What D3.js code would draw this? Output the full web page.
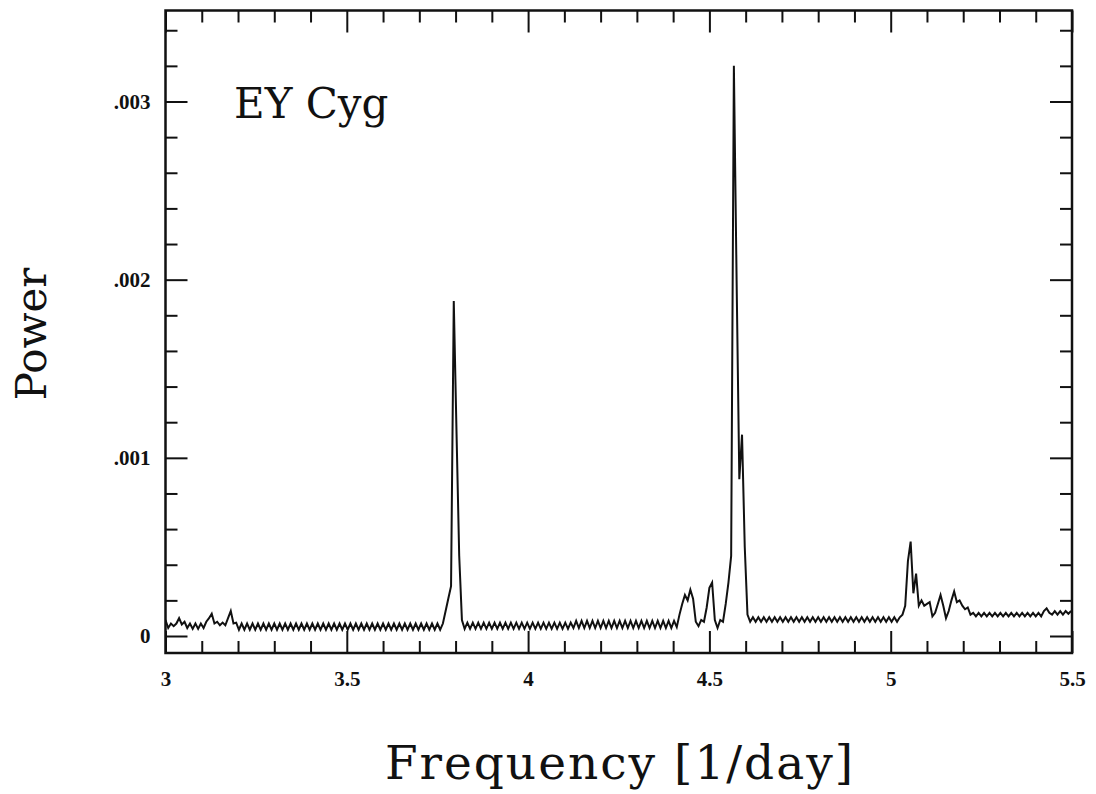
<!DOCTYPE html>
<html>
<head>
<meta charset="utf-8">
<script src="https://cdn.jsdelivr.net/npm/d3@7"></script>
<style>
    body { margin: 0; background: #fff; }
    svg { display: block; }
    .axis text { font-family: "Liberation Serif", serif; font-size: 21px; font-weight: bold; fill: #111; }
    .axis line { stroke: #111; stroke-width: 2px; }
    .axis .domain { display: none; }
</style>
</head>
<body>
<div id="chart"></div>
<script>

// periodogram of EY Cyg, sampled on a regular frequency grid (1/day)
const FREQ_START = 3;
const FREQ_STEP = 0.0075;

// power, in units of 1e-5, one value per grid step (10 per row)
const powerE5 = [
    9, 4.5, 7, 5.5, 7, 10, 6.5, 8, 4.5, 7,
    4, 7, 4, 7, 4.5, 8, 10, 12.5, 7, 8,
    6, 7.5, 6, 10, 14, 7, 7.5, 3.5, 7, 3.5,
    7, 3.5, 7, 3.5, 7, 3.5, 7, 3.5, 7, 3.5,
    7, 3.5, 7, 3.5, 7, 3.5, 7, 3.5, 7, 3.5,
    7, 3.5, 7, 3.5, 7, 3.5, 7, 3.5, 7, 3.5,
    7, 3.5, 7, 3.5, 7, 3.5, 7, 3.5, 7, 3.5,
    7, 3.5, 7, 3.5, 7, 3.5, 7, 3.5, 7, 3.5,
    7, 3.5, 7, 3.5, 7, 3.5, 7, 3.5, 7, 3.5,
    7, 3.5, 7, 3.5, 7, 3.5, 7, 3.5, 7, 3.5,
    7, 3.5, 7, 14, 21, 28, 188, 115, 45, 9,
    4, 7.5, 4, 7.5, 4, 7.5, 4, 7.5, 4, 7.5,
    4, 7.5, 4, 7.5, 4, 7.5, 4, 7.5, 4, 7.5,
    4, 7.5, 4, 7.5, 4, 7.5, 4, 7.5, 4, 7.5,
    4, 7.5, 4, 7.5, 4, 7.5, 4, 7.5, 4, 7.5,
    4.5, 8.5, 4.5, 8.5, 4.5, 8.5, 4.5, 8.5, 4.5, 8.5,
    4.5, 8.5, 4.5, 8.5, 4.5, 8.5, 4.5, 8.5, 4.5, 8.5,
    4.5, 8.5, 4.5, 8.5, 4.5, 8.5, 4.5, 8.5, 4.5, 8.5,
    4.5, 8.5, 4.5, 8.5, 4.5, 8.5, 4.5, 8.5, 5, 12,
    18, 23, 20, 26, 21, 8, 5.5, 9, 8, 16,
    27, 30, 9, 4.5, 9, 8, 18, 30, 45, 320,
    200, 88, 113, 50, 12, 8, 10.5, 8, 10.5, 8,
    10.5, 8, 10.5, 8, 10.5, 8, 10.5, 8, 10.5, 8,
    10.5, 8, 10.5, 8, 10.5, 8, 10.5, 8, 10.5, 8,
    10.5, 8, 10.5, 8, 10.5, 8, 10.5, 8, 10.5, 8,
    10.5, 8, 10.5, 8, 10.5, 8, 10.5, 8, 10.5, 8,
    10.5, 8, 10.5, 8, 10.5, 8, 10.5, 8, 10.5, 8,
    10.5, 12, 17, 42, 53, 24, 35, 17, 20, 17,
    18, 19, 11, 13, 18, 23, 17, 10, 14, 20,
    25, 19, 20, 17, 15, 16, 12, 13, 11, 13,
    11, 13, 11, 13, 11, 13, 11, 13, 11, 13,
    11, 13, 11, 13, 11, 13, 11, 13, 11, 13,
    11, 13, 11, 14, 15.5, 13, 12, 14, 12, 14,
    12, 14, 12.5, 14
];

// axis ticks
const xMajorTicks = [3, 3.5, 4, 4.5, 5, 5.5];
const xTickLabels = ["3", "3.5", "4", "4.5", "5", "5.5"];
const yMajorTicks = [0, 0.001, 0.002, 0.003];
const yTickLabels = ["0", ".001", ".002", ".003"];
const X_MINOR_STEP = 0.1;
const Y_MINOR_STEP = 0.0002;

const starName = "EY Cyg";
const xTitle = "Frequency [1/day]";
const yTitle = "Power";


let width = 1096, height = 794;
let frame = {left: 165.5, right: 1072, top: 10.5, bottom: 653};

let svg = d3.select("#chart").append("svg")
    .attr("width", width)
    .attr("height", height);

let x = d3.scaleLinear()
    .domain([3, 5.5])
    .range([frame.left, frame.right]);

let y = d3.scaleLinear()
    .domain([0, 0.003])
    .range([636, 101.5]);

let data = powerE5.map((p, i) => ({freq: FREQ_START + i * FREQ_STEP, power: p * 1e-5}));

// minor tick positions that fall inside the frame
let xMinor = d3.range(3, 5.5001, X_MINOR_STEP).filter(v => !xMajorTicks.some(m => Math.abs(m - v) < 1e-6));
let yLow = y.invert(frame.bottom), yHigh = y.invert(frame.top);
let yMinor = d3.range(-0.001, 0.004, Y_MINOR_STEP)
    .filter(v => v > yLow && v < yHigh)
    .filter(v => !yMajorTicks.some(m => Math.abs(m - v) < 1e-9));

let xLabel = d => xTickLabels[xMajorTicks.indexOf(d)];
let yLabel = d => yTickLabels[yMajorTicks.indexOf(d)];

// bottom
svg.append("g").attr("class", "axis")
    .attr("transform", `translate(0, ${frame.bottom})`)
    .call(d3.axisBottom(x).tickValues(xMinor).tickSize(-12).tickFormat(""));
svg.append("g").attr("class", "axis")
    .attr("transform", `translate(0, ${frame.bottom})`)
    .call(d3.axisBottom(x).tickValues(xMajorTicks).tickSize(-22).tickPadding(18).tickFormat(xLabel));

// top
svg.append("g").attr("class", "axis")
    .attr("transform", `translate(0, ${frame.top})`)
    .call(d3.axisTop(x).tickValues(xMinor).tickSize(-12).tickFormat(""));
svg.append("g").attr("class", "axis")
    .attr("transform", `translate(0, ${frame.top})`)
    .call(d3.axisTop(x).tickValues(xMajorTicks).tickSize(-22).tickFormat(""));

// left
svg.append("g").attr("class", "axis")
    .attr("transform", `translate(${frame.left}, 0)`)
    .call(d3.axisLeft(y).tickValues(yMinor).tickSize(-12).tickFormat(""));
svg.append("g").attr("class", "axis")
    .attr("transform", `translate(${frame.left}, 0)`)
    .call(d3.axisLeft(y).tickValues(yMajorTicks).tickSize(-22).tickPadding(15).tickFormat(yLabel));

// right
svg.append("g").attr("class", "axis")
    .attr("transform", `translate(${frame.right}, 0)`)
    .call(d3.axisRight(y).tickValues(yMinor).tickSize(-12).tickFormat(""));
svg.append("g").attr("class", "axis")
    .attr("transform", `translate(${frame.right}, 0)`)
    .call(d3.axisRight(y).tickValues(yMajorTicks).tickSize(-22).tickFormat(""));

// frame
svg.append("rect")
    .attr("x", frame.left).attr("y", frame.top)
    .attr("width", frame.right - frame.left)
    .attr("height", frame.bottom - frame.top)
    .attr("fill", "none")
    .attr("stroke", "#111")
    .attr("stroke-width", 2.5);

svg.append("clipPath").attr("id", "plotClip")
    .append("rect")
    .attr("x", frame.left).attr("y", frame.top)
    .attr("width", frame.right - frame.left)
    .attr("height", frame.bottom - frame.top);

let line = d3.line()
    .x(d => x(d.freq))
    .y(d => y(d.power));

svg.append("path")
    .datum(data)
    .attr("clip-path", "url(#plotClip)")
    .attr("d", line)
    .attr("fill", "none")
    .attr("stroke", "#111")
    .attr("stroke-width", 2)
    .attr("stroke-linejoin", "miter");

// star name
svg.append("text")
    .attr("x", 234).attr("y", 118)
    .attr("font-family", "DejaVu Serif, serif")
    .attr("font-size", 42)
    .attr("fill", "#111")
    .text(starName);

// axis titles
svg.append("text")
    .attr("x", 620).attr("y", 779)
    .attr("text-anchor", "middle")
    .attr("font-family", "DejaVu Serif, serif")
    .attr("font-size", 47)
    .attr("letter-spacing", 2)
    .attr("fill", "#111")
    .text(xTitle);

svg.append("text")
    .attr("transform", "translate(46, 334) rotate(-90)")
    .attr("text-anchor", "middle")
    .attr("font-family", "DejaVu Serif, serif")
    .attr("font-size", 42)
    .attr("fill", "#111")
    .text(yTitle);

</script>
</body>
</html>
